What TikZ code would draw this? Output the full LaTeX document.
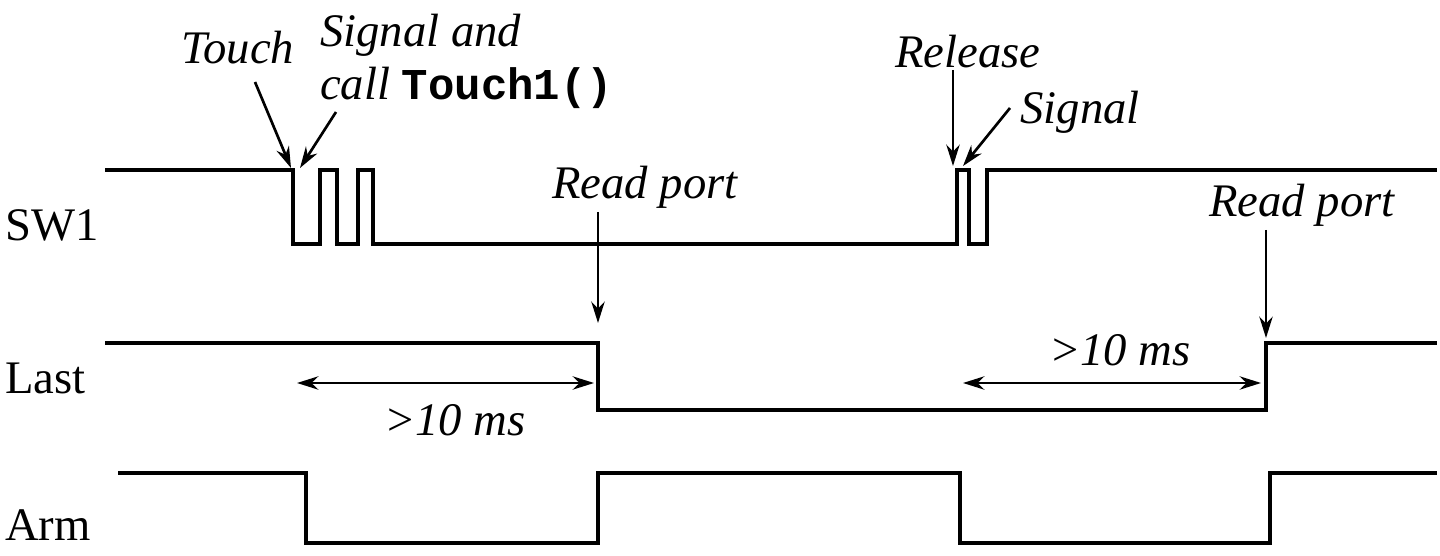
\documentclass[tikz,border=0pt]{standalone}
\usepackage{fontspec}
\setmainfont{Liberation Serif}
\setmonofont{Liberation Mono}
\usetikzlibrary{arrows.meta}
\begin{document}
\begin{tikzpicture}[x=0.75pt,y=-0.75pt,
  sig/.style={line width=2.4pt,line join=miter},
  arr/.style={line width=2pt,-{Stealth[length=16pt,width=10pt]}},
  darr/.style={line width=2pt,{Stealth[length=16pt,width=10pt]}-{Stealth[length=16pt,width=10pt]}},
  lab/.style={font=\fontsize{35}{38}\selectfont\itshape,inner sep=0pt},
  nm/.style={font=\fontsize{35}{38}\selectfont,inner sep=0pt}]
\useasboundingbox (0,0) rectangle (1440,556);
% signals
\draw[sig] (105,170) -- (293,170) -- (293,244) -- (320,244) -- (320,170) -- (337,170) -- (337,244) -- (358,244) -- (358,170) -- (373,170) -- (373,244) -- (957,244) -- (957,170) -- (969,170) -- (969,244) -- (987,244) -- (987,170) -- (1437,170);
\draw[sig] (105,343) -- (598,343) -- (598,410) -- (1266,410) -- (1266,343) -- (1437,343);
\draw[sig] (118,473) -- (306,473) -- (306,543) -- (598,543) -- (598,473) -- (960,473) -- (960,543) -- (1270,543) -- (1270,473) -- (1437,473);
% names
\node[nm,anchor=west] (sw) at (5,225) {SW1};
\node[nm,anchor=west] (last) at (5,378) {Last};
\node[nm,anchor=west] (arm) at (5,525) {Arm};
% labels
\node[lab] (touch) at (238,48) {Touch};
\node[lab,anchor=west] (sig1) at (320,35) {Signal and};
\node[lab,anchor=west] (call) at (320,88) {call \textup{\fontsize{33}{36}\selectfont\bfseries\ttfamily Touch1()}};
\node[lab] (rel) at (968,52) {Release};
\node[lab] (sig2) at (1080,112) {Signal};
\node[lab] (rp1) at (645,187) {Read port};
\node[lab] (rp2) at (1302,205) {Read port};
\node[lab] (ms1) at (455,420) {>10 ms};
\node[lab] (ms2) at (1120,350) {>10 ms};
% arrows
\coordinate (t1) at (291,168); \coordinate (t2) at (300,168);
\coordinate (r1) at (953,166); \coordinate (r2) at (963,166);
\coordinate (p1) at (598,323); \coordinate (p2) at (1266,338);
\draw[arr] (255,82) -- (t1);
\draw[arr] (336,112) -- (t2);
\draw[arr] (953,70) -- (r1);
\draw[arr] (1010,108) -- (r2);
\draw[arr] (598,212) -- (p1);
\draw[arr] (1266,230) -- (p2);
\coordinate (a1) at (297,383); \coordinate (a2) at (594,383);
\coordinate (b1) at (963,383); \coordinate (b2) at (1261,383);
\draw[darr] (a1) -- (a2);
\draw[darr] (b1) -- (b2);
\end{tikzpicture}
\end{document}
